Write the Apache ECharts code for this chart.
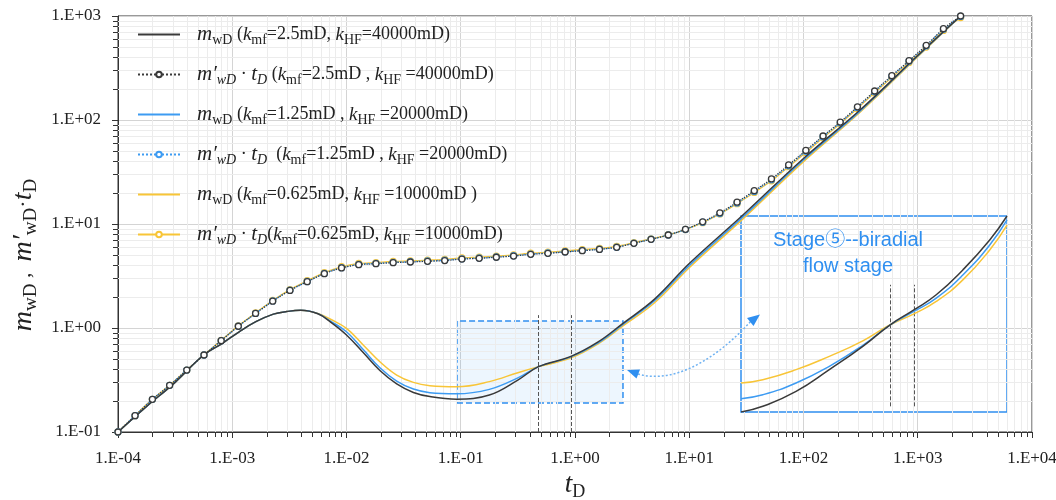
<!DOCTYPE html>
<html>
  <head>
    <meta charset="utf-8" />
    <title>ECharts</title>
    <style type="text/css">
      html,
      body {
        margin: 0;
        padding: 0;
        background: #fff;
      }
    </style>
    <script src="https://cdn.jsdelivr.net/npm/echarts@6/dist/echarts.min.js"></script>
  </head>
  <body>
    <div id="chart" style="width: 1056px; height: 500px"></div>
    <script type="text/javascript">
      // 上方曲线（带圆点）的采样时间
      var tUpper = [
        1.0e-4, 1.41e-4, 2.0e-4, 2.83e-4, 4.0e-4, 5.66e-4, 8.0e-4, 1.13e-3, 1.6e-3, 2.26e-3,
        3.2e-3, 4.53e-3, 6.4e-3, 9.05e-3, 1.28e-2, 1.81e-2, 2.56e-2, 3.62e-2, 5.12e-2, 7.24e-2,
        0.1024, 0.145, 0.2048, 0.29, 0.4096, 0.579, 0.8192, 1.158, 1.638, 2.317,
        3.277, 4.634, 6.554, 9.268, 13.11, 18.54, 26.21, 37.07, 52.43, 74.14,
        104.9, 148.3, 209.7, 296.6, 419.4, 593.1, 838.9, 1186, 1678, 2373
      ];
      var upperBlack = [
        0.1, 0.1436, 0.206, 0.281, 0.394, 0.55, 0.755, 1.04, 1.38, 1.81,
        2.3, 2.79, 3.33, 3.78, 4.06, 4.15, 4.25, 4.31, 4.38, 4.45,
        4.6, 4.68, 4.79, 4.92, 5.11, 5.23, 5.38, 5.54, 5.7, 5.97,
        6.52, 7.12, 7.84, 8.89, 10.5, 12.8, 16.2, 20.9, 27.1, 37.0,
        51.0, 70.2, 95.6, 134, 190, 267, 372, 522, 755, 1000
      ];
      var upperBlue = [
        0.1, 0.1436, 0.206, 0.281, 0.394, 0.55, 0.756, 1.04, 1.38, 1.82,
        2.31, 2.8, 3.35, 3.8, 4.09, 4.18, 4.28, 4.34, 4.41, 4.48,
        4.63, 4.71, 4.82, 4.95, 5.14, 5.26, 5.41, 5.57, 5.73, 5.99,
        6.55, 7.14, 7.84, 8.85, 10.4, 12.6, 15.9, 20.5, 26.6, 36.3,
        50.0, 69.0, 94.0, 132, 187, 263, 367, 515, 745, 990
      ];
      var upperYellow = [
        0.1, 0.1436, 0.206, 0.281, 0.394, 0.552, 0.76, 1.05, 1.4, 1.84,
        2.34, 2.85, 3.41, 3.88, 4.17, 4.26, 4.36, 4.42, 4.49, 4.57,
        4.72, 4.8, 4.91, 5.04, 5.24, 5.36, 5.51, 5.67, 5.82, 6.09,
        6.62, 7.2, 7.88, 8.85, 10.3, 12.5, 15.7, 20.1, 26.0, 35.6,
        48.6, 67.5, 92.0, 129, 183, 257, 358, 503, 727, 965
      ];

      // 下方曲线（实线）的采样时间
      var tLower = [
        1e-4, 1.78e-4, 3.16e-4, 5.62e-4, 8.2e-4, 1.15e-3, 1.61e-3, 2.29e-3, 3.0e-3, 3.98e-3,
        5.62e-3, 7.18e-3, 1e-2, 1.4e-2, 1.96e-2, 2.75e-2, 3.85e-2, 5.37e-2, 9.2e-2, 0.178,
        0.316, 0.48, 0.91, 1.58, 2.63, 5.0, 10, 29.5, 100, 316, 1000, 2373
      ];
      var lowerBlack = [
        0.1, 0.176, 0.3, 0.55, 0.713, 0.92, 1.15, 1.36, 1.44, 1.48,
        1.37, 1.15, 0.857, 0.58, 0.39, 0.29, 0.24, 0.219, 0.207, 0.227,
        0.316, 0.425, 0.53, 0.73, 1.109, 1.905, 4.17, 12.2, 42.7, 126, 417, 1000
      ];
      var lowerBlue = [
        0.1, 0.176, 0.3, 0.55, 0.713, 0.92, 1.15, 1.36, 1.44, 1.48,
        1.375, 1.17, 0.92, 0.62, 0.415, 0.309, 0.259, 0.239, 0.233, 0.257,
        0.331, 0.425, 0.525, 0.715, 1.084, 1.84, 3.98, 11.7, 41.2, 123, 412, 1000
      ];
      var lowerYellow = [
        0.1, 0.176, 0.3, 0.55, 0.713, 0.92, 1.15, 1.36, 1.44, 1.48,
        1.38, 1.22, 0.99, 0.687, 0.474, 0.353, 0.3, 0.279, 0.272, 0.305,
        0.372, 0.425, 0.513, 0.7, 1.047, 1.758, 3.8, 11.2, 39.8, 120, 407, 1000
      ];

      // 局部放大图（0~100 归一化坐标）
      var insetX = [0, 8.2, 20.7, 33.2, 45.8, 56.1, 65, 73.4, 83.4, 93.5, 100];
      var insetBlack = [0, 2.9, 10.5, 21.6, 33.5, 44.5, 52.1, 59.8, 72.5, 87.8, 100];
      var insetBlue = [6.8, 8.8, 14.8, 23.3, 34.0, 44.5, 51.3, 58.1, 69.9, 85.2, 98];
      var insetYellow = [14.8, 16.5, 21.6, 28.4, 36.3, 44.5, 50.1, 56.4, 67.4, 82.7, 95.4];

      var dashT = [0.48, 0.92];
      var insetDashX = [56.1, 65];

      var BLACK = "#3a3a3a";
      var BLUE = "#3d9bf2";
      var YELLOW = "#f8c537";
      var ACCENT = "#2f8ff0";
      var SERIF = "'Liberation Serif', 'Times New Roman', serif";

      function zip(xs, ys) {
        return xs.map(function (x, i) {
          return [x, ys[i]];
        });
      }

      function expLabel(v) {
        var e = Math.round(Math.log10(v));
        var a = Math.abs(e);
        return "1.E" + (e < 0 ? "-" : "+") + (a < 10 ? "0" : "") + a;
      }

      // 对数轴的次刻度 2~9
      var minorX = [];
      var minorY = [];
      for (var e = -4; e < 4; e++) {
        for (var d = 2; d <= 9; d++) minorX.push([d * Math.pow(10, e), 1]);
      }
      for (var e2 = -1; e2 < 3; e2++) {
        for (var d2 = 2; d2 <= 9; d2++) minorY.push([1, d2 * Math.pow(10, e2)]);
      }

      function crisp(v) {
        return Math.round(v) + 0.5;
      }

      var richText = {
        m: { fontFamily: SERIF, fontStyle: "italic", fontSize: 21, color: "#222" },
        s: { fontFamily: SERIF, fontSize: 14, color: "#222", padding: [11, 0, 0, 0] },
        si: { fontFamily: SERIF, fontStyle: "italic", fontSize: 14, color: "#222", padding: [11, 0, 0, 0] },
        k: { fontFamily: SERIF, fontStyle: "italic", fontSize: 19, color: "#222" },
        n: { fontFamily: SERIF, fontSize: 18, color: "#222" },
        gap: { width: 12 }
      };

      var legendText = {
        "m1": "{gap|}{m|m}{s|wD}{n| (}{k|k}{s|mf}{n|=2.5mD, }{k|k}{s|HF}{n|=40000mD)}",
        "d1": "{gap|}{m|m\u2032}{si|wD}{n| \u00b7 }{m|t}{si|D}{n| (}{k|k}{s|mf}{n|=2.5mD , }{k|k}{s|HF}{n| =40000mD)}",
        "m2": "{gap|}{m|m}{s|wD}{n| (}{k|k}{s|mf}{n|=1.25mD , }{k|k}{s|HF}{n| =20000mD)}",
        "d2": "{gap|}{m|m\u2032}{si|wD}{n| \u00b7 }{m|t}{si|D}{n|  (}{k|k}{s|mf}{n|=1.25mD , }{k|k}{s|HF}{n| =20000mD)}",
        "m3": "{gap|}{m|m}{s|wD}{n| (}{k|k}{s|mf}{n|=0.625mD, }{k|k}{s|HF}{n| =10000mD )}",
        "d3": "{gap|}{m|m\u2032}{si|wD}{n| \u00b7 }{m|t}{si|D}{n|(}{k|k}{s|mf}{n|=0.625mD, }{k|k}{s|HF}{n| =10000mD)}"
      };
      var noMarker = { color: "rgba(0,0,0,0)", borderWidth: 0, opacity: 0 };

      var chart = echarts.init(document.getElementById("chart"));

      var option = {
        animation: false,
        backgroundColor: "#fff",
        grid: [
          { left: 118, right: 24, top: 16, bottom: 68, show: true, borderColor: "#333", borderWidth: 1, outerBoundsMode: "none" },
          { left: 741, top: 216, width: 266, height: 196, show: true, borderColor: ACCENT, borderWidth: 1.5, backgroundColor: "rgba(255,255,255,0.75)", outerBoundsMode: "none" }
        ],
        legend: {
          orient: "vertical",
          left: 132,
          top: 19,
          itemWidth: 42,
          itemHeight: 7,
          itemGap: 17,
          data: [
            { name: "m1", itemStyle: noMarker },
            { name: "d1" },
            { name: "m2", itemStyle: noMarker },
            { name: "d2" },
            { name: "m3", itemStyle: noMarker },
            { name: "d3" }
          ],
          formatter: function (name) {
            return legendText[name];
          },
          textStyle: { rich: richText }
        },
        xAxis: [
          {
            type: "log",
            logBase: 10,
            min: 1e-4,
            max: 1e4,
            splitNumber: 8,
            gridIndex: 0,
            axisLine: { show: true, lineStyle: { color: "#333" } },
            axisTick: { show: true, inside: false, length: 6, lineStyle: { color: "#333" } },
            axisLabel: { formatter: expLabel, fontFamily: SERIF, fontSize: 17, color: "#222", margin: 18, showMinLabel: true, showMaxLabel: true },
            splitLine: { show: true, lineStyle: { color: "#d4d4d4" } },
            name: "{m|t}{s|D}",
            nameLocation: "middle",
            nameGap: 34,
            nameTextStyle: {
              rich: {
                m: { fontFamily: SERIF, fontStyle: "italic", fontSize: 27, color: "#222" },
                s: { fontFamily: SERIF, fontSize: 18, color: "#222", padding: [14, 0, 0, 0] }
              }
            }
          },
          { type: "value", gridIndex: 1, min: 0, max: 100, show: false, splitLine: { show: false } }
        ],
        yAxis: [
          {
            type: "log",
            logBase: 10,
            min: 0.1,
            max: 1000,
            splitNumber: 4,
            gridIndex: 0,
            axisLine: { show: true, lineStyle: { color: "#333" } },
            axisTick: { show: true, inside: false, length: 6, lineStyle: { color: "#333" } },
            axisLabel: { formatter: expLabel, fontFamily: SERIF, fontSize: 17, color: "#222", margin: 17, showMinLabel: true, showMaxLabel: true },
            splitLine: { show: true, lineStyle: { color: "#d4d4d4" } },
            name: "{m|m}{s|wD}{n| ,  }{m|m\u2032}{s|wD}{n|\u00b7}{m|t}{s|D}",
            nameLocation: "middle",
            nameRotate: 90,
            nameGap: 68,
            nameTextStyle: {
              padding: [0, 62, 0, 0],
              rich: {
                m: { fontFamily: SERIF, fontStyle: "italic", fontSize: 28, color: "#222" },
                s: { fontFamily: SERIF, fontSize: 19, color: "#222", padding: [14, 0, 0, 0] },
                n: { fontFamily: SERIF, fontSize: 22, color: "#222" }
              }
            }
          },
          { type: "value", gridIndex: 1, min: 0, max: 100, show: false, splitLine: { show: false } }
        ],
        series: [
          {
            // 次网格线 + 次刻度（x）
            type: "custom",
            silent: true,
            z: 1,
            clip: false,
            data: minorX,
            encode: { x: 0, y: 1 },
            renderItem: function (params, api) {
              var v = api.value(0);
              var top = api.coord([v, 1000]);
              var bot = api.coord([v, 0.1]);
              var x = crisp(top[0]);
              return {
                type: "group",
                children: [
                  { type: "line", shape: { x1: x, y1: top[1], x2: x, y2: bot[1] }, style: { stroke: "#ececec", lineWidth: 1 } },
                  { type: "line", shape: { x1: x, y1: bot[1], x2: x, y2: bot[1] + 5 }, style: { stroke: "#333", lineWidth: 1 } }
                ]
              };
            }
          },
          {
            // 次网格线 + 次刻度（y）
            type: "custom",
            silent: true,
            z: 1,
            clip: false,
            data: minorY,
            encode: { x: 0, y: 1 },
            renderItem: function (params, api) {
              var v = api.value(1);
              var l = api.coord([1e-4, v]);
              var r = api.coord([1e4, v]);
              var y = crisp(l[1]);
              return {
                type: "group",
                children: [
                  { type: "line", shape: { x1: l[0], y1: y, x2: r[0], y2: y }, style: { stroke: "#ececec", lineWidth: 1 } },
                  { type: "line", shape: { x1: l[0] - 5, y1: y, x2: l[0], y2: y }, style: { stroke: "#333", lineWidth: 1 } }
                ]
              };
            }
          },
          {
            name: "d3",
            type: "line",
            data: zip(tUpper, upperYellow),
            smooth: 0.3,
            symbol: "circle",
            symbolSize: 6,
            lineStyle: { color: YELLOW, width: 1.3 },
            itemStyle: { color: "#fff", borderColor: YELLOW, borderWidth: 1.3 },
            z: 3
          },
          {
            name: "d2",
            type: "line",
            data: zip(tUpper, upperBlue),
            smooth: 0.3,
            symbol: "circle",
            symbolSize: 6,
            lineStyle: { color: BLUE, width: 1.5, type: "dotted" },
            itemStyle: { color: "#fff", borderColor: BLUE, borderWidth: 1.3 },
            z: 4
          },
          {
            name: "d1",
            type: "line",
            data: zip(tUpper, upperBlack),
            smooth: 0.3,
            symbol: "circle",
            symbolSize: 6,
            lineStyle: { color: BLACK, width: 1.2, type: "dotted" },
            itemStyle: { color: "#fff", borderColor: BLACK, borderWidth: 1.3 },
            z: 5
          },
          {
            name: "m3",
            type: "line",
            data: zip(tLower, lowerYellow),
            smooth: 0.4,
            symbol: "none",
            lineStyle: { color: YELLOW, width: 1.5 },
            itemStyle: { color: YELLOW },
            z: 3
          },
          {
            name: "m2",
            type: "line",
            data: zip(tLower, lowerBlue),
            smooth: 0.4,
            symbol: "none",
            lineStyle: { color: BLUE, width: 1.5 },
            itemStyle: { color: BLUE },
            z: 4
          },
          {
            name: "m1",
            type: "line",
            data: zip(tLower, lowerBlack),
            smooth: 0.4,
            symbol: "none",
            lineStyle: { color: BLACK, width: 1.5 },
            itemStyle: { color: BLACK },
            z: 5,
            markLine: {
              silent: true,
              symbol: "none",
              label: { show: false },
              lineStyle: { color: "#555", type: "dashed", width: 1 },
              data: dashT.map(function (t) {
                return [{ coord: [t, 0.1] }, { coord: [t, 1.33] }];
              })
            },
            markArea: {
              silent: true,
              itemStyle: {
                color: "rgba(60,150,240,0.09)",
                borderColor: ACCENT,
                borderWidth: 1.5,
                borderType: "dashed"
              },
              data: [[{ coord: [0.0927, 0.19] }, { coord: [2.63, 1.17] }]]
            }
          },
          {
            name: "inset-yellow",
            type: "line",
            xAxisIndex: 1,
            yAxisIndex: 1,
            data: zip(insetX, insetYellow),
            smooth: 0.5,
            symbol: "none",
            lineStyle: { color: YELLOW, width: 1.5 },
            z: 6
          },
          {
            name: "inset-blue",
            type: "line",
            xAxisIndex: 1,
            yAxisIndex: 1,
            data: zip(insetX, insetBlue),
            smooth: 0.5,
            symbol: "none",
            lineStyle: { color: BLUE, width: 1.5 },
            z: 7
          },
          {
            name: "inset-black",
            type: "line",
            xAxisIndex: 1,
            yAxisIndex: 1,
            data: zip(insetX, insetBlack),
            smooth: 0.5,
            symbol: "none",
            lineStyle: { color: BLACK, width: 1.5 },
            z: 8,
            markLine: {
              silent: true,
              symbol: "none",
              label: { show: false },
              lineStyle: { color: "#555", type: "dashed", width: 1 },
              data: insetDashX.map(function (x) {
                return [{ coord: [x, 2.9] }, { coord: [x, 64.9] }];
              })
            }
          }
        ],
        graphic: [
          {
            type: "bezierCurve",
            z: 10,
            silent: true,
            shape: { x1: 638, y1: 374, cpx1: 680, cpy1: 386, cpx2: 725, cpy2: 350, x2: 751, y2: 321 },
            style: { stroke: "#6fb2f2", lineWidth: 1.5, lineDash: [2, 2], fill: null }
          },
          {
            type: "polygon",
            z: 10,
            silent: true,
            shape: { points: [[627, 370], [640, 369.5], [636.5, 378.5]] },
            style: { fill: ACCENT }
          },
          {
            type: "polygon",
            z: 10,
            silent: true,
            shape: { points: [[760, 314.5], [747, 318], [753.5, 326]] },
            style: { fill: ACCENT }
          },
          {
            type: "text",
            z: 10,
            silent: true,
            x: 848,
            y: 227,
            style: {
              text: "Stage\u2464--biradial\nflow stage",
              fontFamily: "'Liberation Sans', Arial, 'Noto Sans CJK SC', sans-serif",
              fontSize: 20,
              lineHeight: 26,
              fill: ACCENT,
              textAlign: "center",
              textVerticalAlign: "top"
            }
          }
        ]
      };

      chart.setOption(option);
    </script>
  </body>
</html>
